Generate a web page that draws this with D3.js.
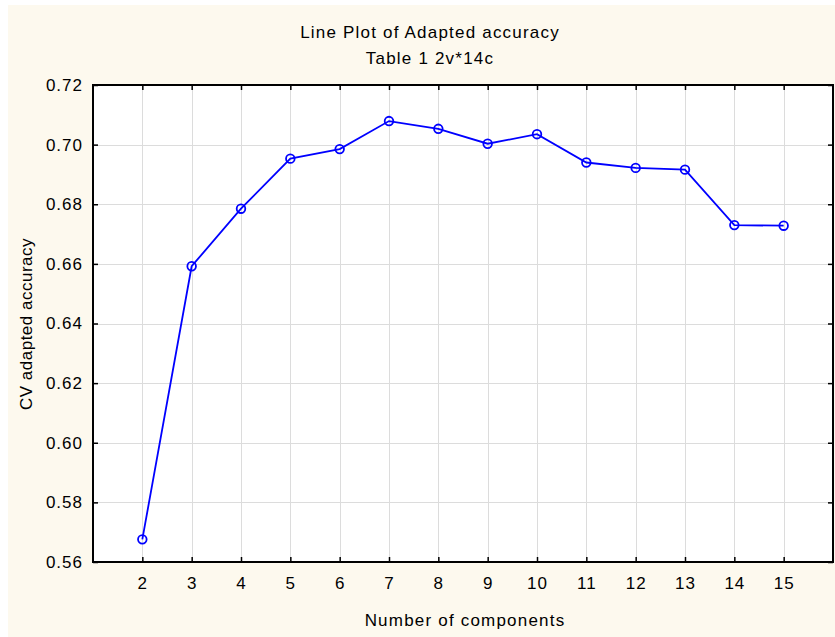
<!DOCTYPE html>
<html>
<head>
<meta charset="utf-8">
<script src="https://cdn.jsdelivr.net/npm/d3@7"></script>
<style>
  html, body { margin: 0; padding: 0; background: #ffffff; }
  svg { display: block; }
  text { font-family: "Liberation Sans", Arial, sans-serif; fill: #000; }
</style>
</head>
<body>
<svg id="chart" width="835" height="637"></svg>
<script>
// Number of components and cross-validated adapted accuracy
const components = [2, 3, 4, 5, 6, 7, 8, 9, 10, 11, 12, 13, 14, 15];
const accuracy = [0.5676, 0.6592, 0.6785, 0.6953, 0.6985, 0.7079, 0.7053, 0.7003, 0.7035, 0.6940, 0.6922, 0.6916, 0.6730, 0.6728];
const yTicks = [0.56, 0.58, 0.60, 0.62, 0.64, 0.66, 0.68, 0.70, 0.72];
const titleLines = ["Line Plot of Adapted accuracy", "Table 1 2v*14c"];
const xLabel = "Number of components";
const yLabel = "CV adapted accuracy";

const svg = d3.select("#chart");
const W = 835, H = 637;
const plot = { left: 93, top: 85, right: 833, bottom: 562 };
const FONT = 17;

// panel background
svg.append("rect").attr("x", 8).attr("y", 5).attr("width", W - 8).attr("height", H - 5)
  .attr("fill", "#fdf9ee");

svg.append("rect").attr("x", plot.left).attr("y", plot.top)
  .attr("width", plot.right - plot.left).attr("height", plot.bottom - plot.top)
  .attr("fill", "#ffffff");

const x = d3.scaleLinear().domain([1, 16]).range([plot.left, plot.right]);
const y = d3.scaleLinear().domain([0.56, 0.72]).range([plot.bottom, plot.top]);

// grid
const grid = svg.append("g").attr("stroke", "#dcdcdc").attr("stroke-width", 1);
grid.selectAll("line.v").data(components).join("line").attr("class", "v")
  .attr("x1", d => Math.round(x(d)) + 0.5).attr("x2", d => Math.round(x(d)) + 0.5)
  .attr("y1", plot.top).attr("y2", plot.bottom);
grid.selectAll("line.h").data(yTicks.slice(1, -1)).join("line").attr("class", "h")
  .attr("y1", d => Math.round(y(d)) + 0.5).attr("y2", d => Math.round(y(d)) + 0.5)
  .attr("x1", plot.left).attr("x2", plot.right);

// axes with inward ticks on all four sides
const fmt = d3.format(".2f");
const xAxisB = d3.axisBottom(x).tickValues(components).tickSize(-5).tickPadding(15).tickFormat(d3.format("d"));
const xAxisT = d3.axisTop(x).tickValues(components).tickSize(-5).tickFormat("");
const yAxisL = d3.axisLeft(y).tickValues(yTicks).tickSize(-5).tickPadding(10).tickFormat(fmt);
const yAxisR = d3.axisRight(y).tickValues(yTicks).tickSize(-5).tickFormat("");

function styleAxis(g) {
  g.select(".domain").remove();
  g.selectAll(".tick line").attr("stroke", "#000").attr("stroke-width", 1.5);
  g.selectAll(".tick text").attr("font-size", FONT).attr("letter-spacing", 1)
    .attr("font-family", "Liberation Sans, Arial, sans-serif");
}
svg.append("g").attr("transform", `translate(0,${plot.bottom})`).call(xAxisB).call(styleAxis);
svg.append("g").attr("transform", `translate(0,${plot.top})`).call(xAxisT).call(styleAxis);
svg.append("g").attr("transform", `translate(${plot.left},0)`).call(yAxisL).call(styleAxis);
svg.append("g").attr("transform", `translate(${plot.right},0)`).call(yAxisR).call(styleAxis);

// frame
svg.append("rect").attr("x", plot.left).attr("y", plot.top)
  .attr("width", plot.right - plot.left).attr("height", plot.bottom - plot.top)
  .attr("fill", "none").attr("stroke", "#000").attr("stroke-width", 2);

// series
const pts = components.map((c, i) => [c, accuracy[i]]);
svg.append("path").datum(pts)
  .attr("fill", "none").attr("stroke", "#0000ff").attr("stroke-width", 1.8)
  .attr("d", d3.line().x(d => x(d[0])).y(d => y(d[1])));
svg.append("g").selectAll("circle").data(pts).join("circle")
  .attr("cx", d => x(d[0])).attr("cy", d => y(d[1])).attr("r", 4.3)
  .attr("fill", "none").attr("stroke", "#0000ff").attr("stroke-width", 1.8);

// titles and axis labels
function label(sel, spacing) {
  return sel.attr("text-anchor", "middle").attr("font-size", FONT).attr("letter-spacing", spacing);
}
svg.append("text").attr("x", 430).attr("y", 38).call(label, 1.2).text(titleLines[0]);
svg.append("text").attr("x", 430).attr("y", 64).call(label, 1.2).text(titleLines[1]);
svg.append("text").attr("x", 465).attr("y", 626).call(label, 1.2).text(xLabel);
svg.append("text").attr("transform", "translate(32,324) rotate(-90)").call(label, 0.5).text(yLabel);
</script>
</body>
</html>
